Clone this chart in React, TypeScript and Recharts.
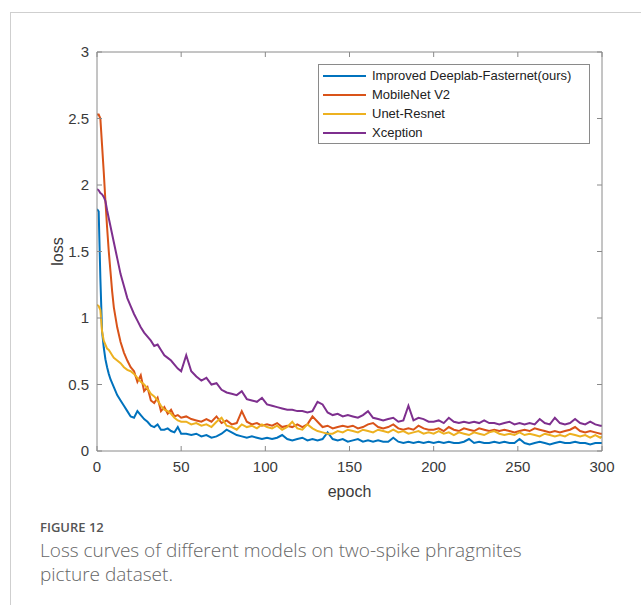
import { LineChart, Line, XAxis, YAxis, Legend } from 'recharts';

// epochs (denser at the start where curves drop fast)
const epochs = [
  0, 1, 2, 3, 4, 5, 6, 7, 8, 9, 10,
  12, 14, 16, 18, 20, 22, 24, 26, 28, 30, 32, 34, 36, 38, 40, 42, 44, 46, 48, 50,
  53, 56, 59, 62, 65, 68, 71, 74, 77, 80, 83, 86, 89, 92, 95, 98,
  101, 104, 107, 110, 113, 116, 119, 122, 125, 128, 131, 134, 137, 140, 143, 146, 149,
  152, 155, 158, 161, 164, 167, 170, 173, 176, 179, 182, 185, 188, 191, 194, 197, 200,
  203, 206, 209, 212, 215, 218, 221, 224, 227, 230, 233, 236, 239, 242, 245, 248, 251,
  254, 257, 260, 263, 266, 269, 272, 275, 278, 281, 284, 287, 290, 293, 296, 299, 300,
];

const improvedLoss = [
  1.82, 1.8, 1.3, 0.9, 0.78, 0.69, 0.63, 0.58, 0.54, 0.51, 0.48,
  0.42, 0.38, 0.34, 0.3, 0.26, 0.25, 0.3, 0.27, 0.24, 0.22, 0.19, 0.18, 0.2, 0.16, 0.16, 0.17, 0.15, 0.14, 0.18, 0.13,
  0.13, 0.12, 0.13, 0.11, 0.12, 0.1, 0.11, 0.13, 0.16, 0.14, 0.12, 0.11, 0.1, 0.11, 0.1, 0.09,
  0.1, 0.09, 0.1, 0.12, 0.09, 0.08, 0.09, 0.1, 0.08, 0.09, 0.08, 0.09, 0.14, 0.09, 0.08, 0.09, 0.07,
  0.08, 0.09, 0.07, 0.08, 0.07, 0.08, 0.07, 0.07, 0.1, 0.07, 0.06, 0.07, 0.06, 0.07, 0.06, 0.07, 0.06,
  0.07, 0.06, 0.07, 0.06, 0.06, 0.07, 0.09, 0.06, 0.07, 0.06, 0.06, 0.07, 0.06, 0.07, 0.06, 0.06, 0.09,
  0.06, 0.05, 0.06, 0.07, 0.06, 0.05, 0.06, 0.07, 0.06, 0.06, 0.07, 0.06, 0.06, 0.05, 0.06, 0.06, 0.06,
];

const mobilenetLoss = [
  2.53, 2.53, 2.5, 2.3, 2.1, 1.88, 1.68, 1.5, 1.35, 1.2, 1.08,
  0.93, 0.82, 0.74, 0.68, 0.63, 0.6, 0.52, 0.57, 0.45, 0.48, 0.38, 0.36, 0.4, 0.3, 0.33, 0.28, 0.31, 0.26, 0.27, 0.25,
  0.26, 0.24, 0.23, 0.22, 0.24, 0.22, 0.26, 0.21, 0.23, 0.2, 0.21, 0.3, 0.22, 0.2, 0.21, 0.19,
  0.2, 0.19, 0.21, 0.18, 0.19, 0.18, 0.2, 0.18, 0.2, 0.26, 0.22, 0.18, 0.19, 0.17, 0.18, 0.19, 0.18,
  0.19, 0.17, 0.18, 0.2, 0.21, 0.18, 0.17, 0.18, 0.2, 0.17, 0.16, 0.17, 0.16, 0.19, 0.17, 0.16, 0.16,
  0.17, 0.15, 0.18, 0.16, 0.15, 0.17, 0.16, 0.15, 0.17, 0.16, 0.15, 0.16, 0.15, 0.16, 0.15, 0.14, 0.15,
  0.16, 0.15, 0.17, 0.16, 0.15, 0.14, 0.15, 0.14, 0.15, 0.16, 0.18, 0.15, 0.14, 0.15, 0.14, 0.13, 0.13,
];

const unetLoss = [
  1.1, 1.09, 1.06, 0.9, 0.83, 0.8, 0.77, 0.76, 0.74, 0.72, 0.7,
  0.68, 0.66, 0.63, 0.61, 0.6, 0.58, 0.55, 0.52, 0.5, 0.47, 0.43, 0.41, 0.38, 0.34, 0.31, 0.3, 0.28, 0.25, 0.23, 0.22,
  0.22, 0.2, 0.21, 0.19, 0.2, 0.18, 0.22, 0.25, 0.19, 0.18, 0.16, 0.2, 0.18, 0.19, 0.17, 0.2,
  0.18, 0.17, 0.19, 0.16, 0.18, 0.22, 0.17, 0.16, 0.2, 0.17, 0.15, 0.14, 0.13, 0.13, 0.15, 0.14, 0.16,
  0.15, 0.14, 0.16, 0.15, 0.14, 0.16, 0.15, 0.14, 0.16, 0.14, 0.15, 0.13, 0.14, 0.15, 0.13, 0.14, 0.13,
  0.15, 0.13, 0.14, 0.12, 0.14, 0.13, 0.12, 0.14, 0.13, 0.12, 0.14, 0.15, 0.13, 0.12, 0.13, 0.12, 0.14,
  0.12, 0.13, 0.12, 0.11, 0.13, 0.12, 0.11, 0.12, 0.11, 0.13, 0.12, 0.11, 0.12, 0.1, 0.12, 0.1, 0.11,
];

const xceptionLoss = [
  1.97, 1.96, 1.94, 1.93, 1.91, 1.88, 1.81, 1.75, 1.69, 1.63, 1.57,
  1.45, 1.33, 1.24, 1.15, 1.09, 1.03, 0.98, 0.93, 0.89, 0.86, 0.83, 0.79, 0.8, 0.76, 0.72, 0.7, 0.68, 0.65, 0.62, 0.6,
  0.72, 0.6, 0.56, 0.53, 0.55, 0.5, 0.51, 0.46, 0.44, 0.43, 0.42, 0.45, 0.39, 0.38, 0.37, 0.4,
  0.35, 0.34, 0.33, 0.32, 0.31, 0.31, 0.3, 0.3, 0.29, 0.3, 0.37, 0.35, 0.29, 0.27, 0.28, 0.26, 0.27,
  0.26, 0.25, 0.27, 0.3, 0.25, 0.24, 0.23, 0.24, 0.25, 0.22, 0.23, 0.34, 0.23, 0.25, 0.24, 0.22, 0.22,
  0.23, 0.21, 0.25, 0.22, 0.21, 0.22, 0.21, 0.22, 0.21, 0.23, 0.21, 0.21, 0.2, 0.21, 0.22, 0.2, 0.21,
  0.2, 0.21, 0.2, 0.24, 0.21, 0.2, 0.25, 0.21, 0.2, 0.21, 0.24, 0.21, 0.2, 0.22, 0.2, 0.19, 0.19,
];

const xTicks = [0, 50, 100, 150, 200, 250, 300];
const yTicks = [0, 0.5, 1, 1.5, 2, 2.5, 3];

const series = [
  { key: 'improved', name: 'Improved Deeplab-Fasternet(ours)', color: '#0072BD' },
  { key: 'mobilenet', name: 'MobileNet V2', color: '#D95319' },
  { key: 'unet', name: 'Unet-Resnet', color: '#EDB120' },
  { key: 'xception', name: 'Xception', color: '#7E2F8E' },
];

const data = epochs.map((epoch, i) => ({
  epoch,
  improved: improvedLoss[i],
  mobilenet: mobilenetLoss[i],
  unet: unetLoss[i],
  xception: xceptionLoss[i],
}));

const axisColor = '#8a8a8a';
const textColor = '#3a3a3a';
const font = '"Liberation Sans", Arial, sans-serif';

// MATLAB style: ticks point inward on all four sides
const BottomTick = ({ x, y, payload }: any) => (
  <g>
    <line x1={x} y1={y} x2={x} y2={y - 5} stroke={axisColor} />
    <text x={x} y={y + 21} textAnchor="middle" fill={textColor} fontSize={15} fontFamily={font}>
      {payload.value}
    </text>
  </g>
);

const LeftTick = ({ x, y, payload }: any) => (
  <g>
    <line x1={x} y1={y} x2={x + 5} y2={y} stroke={axisColor} />
    <text x={x - 8} y={y + 5} textAnchor="end" fill={textColor} fontSize={15} fontFamily={font}>
      {payload.value}
    </text>
  </g>
);

const TopTick = ({ x, y }: any) => <line x1={x} y1={y} x2={x} y2={y + 5} stroke={axisColor} />;
const RightTick = ({ x, y }: any) => <line x1={x} y1={y} x2={x - 5} y2={y} stroke={axisColor} />;

const LegendBox = () => (
  <div
    style={{
      width: 270,
      border: `1px solid ${axisColor}`,
      background: '#fff',
      padding: '1px 0',
      fontFamily: font,
      fontSize: 13,
      color: '#222',
    }}
  >
    {series.map((s) => (
      <div key={s.key} style={{ display: 'flex', alignItems: 'center', height: 19 }}>
        <div style={{ width: 43, height: 2, background: s.color, marginLeft: 4, marginRight: 6 }} />
        <span>{s.name}</span>
      </div>
    ))}
  </div>
);

export default function App() {
  return (
    <div style={{ position: 'absolute', left: 0, top: 0, width: 641, height: 605, background: '#fff' }}>
      <div style={{ position: 'absolute', left: 10, top: 12, right: 0, bottom: 0, borderTop: '1px solid #cfcfcf', borderLeft: '1px solid #cfcfcf' }} />
      <div style={{ position: 'absolute', left: 0, top: 0 }}>
        <LineChart width={641} height={500} data={data} margin={{ top: 51, right: 38, bottom: 19, left: 57 }}>
          <XAxis
            dataKey="epoch"
            type="number"
            domain={[0, 300]}
            ticks={xTicks}
            interval={0}
            height={30}
            tickSize={0}
            tickMargin={0}
            axisLine={{ stroke: axisColor }}
            tickLine={false}
            tick={<BottomTick />}
            allowDataOverflow
            label={({ viewBox }: any) => (
              <text
                x={viewBox.x + viewBox.width / 2}
                y={viewBox.y + 46}
                textAnchor="middle"
                fill={textColor}
                fontSize={16}
                fontFamily={font}
              >
                epoch
              </text>
            )}
          />
          <XAxis
            xAxisId="top"
            orientation="top"
            dataKey="epoch"
            type="number"
            domain={[0, 300]}
            ticks={xTicks}
            interval={0}
            height={1}
            tickSize={0}
            tickMargin={0}
            axisLine={{ stroke: axisColor }}
            tickLine={false}
            tick={<TopTick />}
            allowDataOverflow
          />
          <YAxis
            type="number"
            domain={[0, 3]}
            ticks={yTicks}
            interval={0}
            width={40}
            tickSize={0}
            tickMargin={0}
            axisLine={{ stroke: axisColor }}
            tickLine={false}
            tick={<LeftTick />}
            allowDataOverflow
            label={({ viewBox }: any) => {
              const cx = viewBox.x + 6;
              const cy = viewBox.y + viewBox.height / 2;
              return (
                <text
                  x={cx}
                  y={cy}
                  transform={`rotate(-90 ${cx} ${cy})`}
                  textAnchor="middle"
                  fill={textColor}
                  fontSize={16}
                  fontFamily={font}
                >
                  loss
                </text>
              );
            }}
          />
          <YAxis
            yAxisId="right"
            orientation="right"
            type="number"
            domain={[0, 3]}
            ticks={yTicks}
            interval={0}
            width={1}
            tickSize={0}
            tickMargin={0}
            axisLine={{ stroke: axisColor }}
            tickLine={false}
            tick={<RightTick />}
            allowDataOverflow
          />
          {series.map((s) => (
            <Line
              key={s.key}
              type="linear"
              dataKey={s.key}
              name={s.name}
              stroke={s.color}
              strokeWidth={2}
              dot={false}
              isAnimationActive={false}
            />
          ))}
          <Legend
            layout="vertical"
            align="center"
            verticalAlign="middle"
            content={<LegendBox />}
            wrapperStyle={{ left: 318, top: 64, width: 272 }}
          />
        </LineChart>
      </div>
      <div style={{ position: 'absolute', left: 40, top: 518, fontFamily: '"Open Sans", sans-serif', fontSize: 13, fontWeight: 600, color: '#555' }}>
        FIGURE 12
      </div>
      <div
        style={{
          position: 'absolute',
          left: 40,
          top: 538,
          width: 520,
          fontFamily: '"Open Sans", sans-serif',
          fontSize: 19,
          fontWeight: 300,
          lineHeight: '24px',
          color: '#666',
        }}
      >
        Loss curves of different models on two-spike phragmites picture dataset.
      </div>
    </div>
  );
}
